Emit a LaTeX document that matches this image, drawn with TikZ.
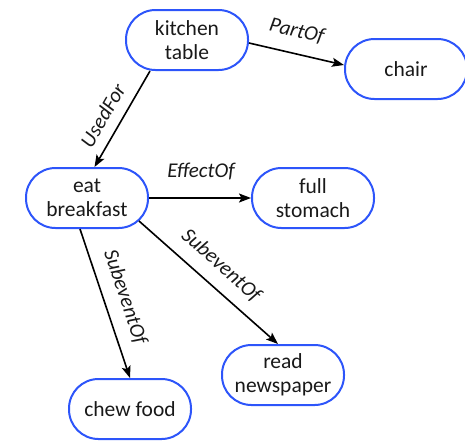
\documentclass[tikz,border=0pt]{standalone}
\usepackage{fontspec}
\setmainfont{Carlito}
\usetikzlibrary{arrows.meta}
\definecolor{nodeblue}{RGB}{45,85,250}
\definecolor{inkgray}{RGB}{25,25,25}
\begin{document}
\begin{tikzpicture}[x=1pt,y=-1pt,
  concept/.style={draw=nodeblue, line width=2pt, rectangle, rounded corners=29.5pt,
    minimum width=122pt, minimum height=60pt, inner sep=0pt, align=center,
    font=\fontsize{21.5}{24}\selectfont, text=inkgray},
  rel/.style={draw=black, line width=1.6pt,
    -{Stealth[length=12pt,width=9pt,inset=2.5pt]}},
  rellabel/.style={sloped, inner sep=1pt,
    font=\fontsize{21}{24}\selectfont\itshape, text=inkgray}]
\useasboundingbox (0,0) rectangle (465,440);

% concepts
\node[concept] (kt)    at (187,40)  {kitchen\\table};
\node[concept] (chair) at (406,69)  {chair};
\node[concept] (eb)    at (87,198)  {eat\\breakfast};
\node[concept] (fs)    at (313,198) {full\\stomach};
\node[concept] (rn)    at (283,375) {read\\newspaper};
\node[concept] (cf)    at (130,409) {chew food};

% relations
\draw[rel] ([xshift=-37pt]kt.south)
  -- node[rellabel, pos=0.56, above=9.5pt] {UsedFor} ([xshift=7.5pt]eb.north);
\draw[rel] ([yshift=-3pt]kt.east)
  -- node[rellabel, pos=0.45, above=12pt] {PartOf} ([yshift=4pt]chair.west);
\draw[rel] (eb.east)
  -- node[rellabel, pos=0.51, above=16pt] {EffectOf} (fs.west);
\draw[rel] ([xshift=-7pt]eb.south)
  -- node[rellabel, pos=0.5, above=11pt] {SubeventOf} (cf.north);
\draw[rel] ([xshift=52pt,yshift=-23pt]eb.center)
  -- node[rellabel, pos=0.49, above=11pt] {SubeventOf} ([xshift=-5pt]rn.north);
\end{tikzpicture}
\end{document}
